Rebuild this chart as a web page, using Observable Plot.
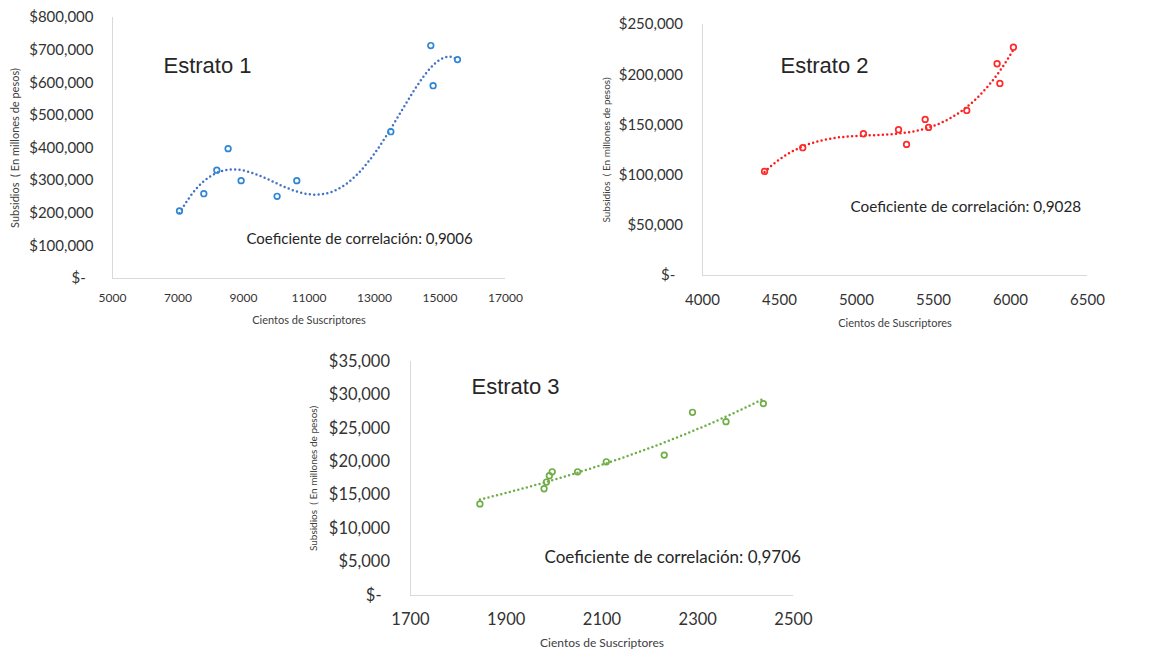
<!DOCTYPE html>
<html>
<head>
<meta charset="utf-8">
<script src="https://cdn.jsdelivr.net/npm/d3@7"></script>
<script src="https://cdn.jsdelivr.net/npm/@observablehq/plot@0.6"></script>
<style>
  html, body { margin: 0; padding: 0; background: #fff; }
  #wrap { position: relative; width: 1169px; height: 651px; overflow: hidden; background: #fff; }
  .panel { position: absolute; }
  .panel svg { overflow: visible; }
</style>
</head>
<body>
<div id="wrap">
  <div class="panel" id="p1" style="left:0px;top:0px"></div>
  <div class="panel" id="p2" style="left:590px;top:0px"></div>
  <div class="panel" id="p3" style="left:300px;top:345px"></div>
</div>
<script>
// ---- Data ----
const estrato1Suscriptores = [7046, 7788, 8185, 8530, 8927, 10026, 10627, 13498, 14719, 14790, 15534];
const estrato1Subsidios    = [207000, 260000, 332000, 398000, 300000, 252000, 300000, 450000, 714000, 591000, 671000];
const estrato2Suscriptores = [4403, 4651, 5045, 5273, 5325, 5446, 5468, 5716, 5913, 5931, 6019];
const estrato2Subsidios    = [103700, 127300, 141200, 145200, 130600, 155500, 147500, 164400, 210900, 191300, 227400];
const estrato3Suscriptores = [1845, 1979, 1984, 1990, 1996, 2049, 2109, 2230, 2289, 2359, 2437];
const estrato3Subsidios    = [13700, 15970, 16970, 17910, 18500, 18500, 20000, 21000, 27400, 26000, 28700];

const titles = ["Estrato 1", "Estrato 2", "Estrato 3"];
const correlaciones = ["Coeficiente de correlación: 0,9006", "Coeficiente de correlación: 0,9028", "Coeficiente de correlación: 0,9706"];
const xTitle = "Cientos de Suscriptores";
const yTitle = "Subsidios  ( En millones de pesos)";

const xTicks1 = [5000, 7000, 9000, 11000, 13000, 15000, 17000];
const yTicks1 = [0, 100000, 200000, 300000, 400000, 500000, 600000, 700000, 800000];
const xTicks2 = [4000, 4500, 5000, 5500, 6000, 6500];
const yTicks2 = [0, 50000, 100000, 150000, 200000, 250000];
const xTicks3 = [1700, 1900, 2100, 2300, 2500];
const yTicks3 = [0, 5000, 10000, 15000, 20000, 25000, 30000, 35000];
// trendline types (as in the spreadsheet): polynomial orders and exponential
const trendTypes = [{type: "poly", order: 5}, {type: "poly", order: 3}, {type: "exp"}];

// ---- Helpers ----
const money = v => v === 0 ? "$-\u00a0\u00a0" : "$" + d3.format(",")(v);

function polyfit(xs, ys, deg) {
  const mx = d3.mean(xs), sx = d3.deviation(xs);
  const us = xs.map(x => (x - mx) / sx);
  const n = deg + 1;
  const A = Array.from({length: n}, () => new Array(n + 1).fill(0));
  for (let k = 0; k < us.length; k++) {
    const p = [];
    for (let i = 0; i < n; i++) p.push(Math.pow(us[k], i));
    for (let i = 0; i < n; i++) {
      for (let j = 0; j < n; j++) A[i][j] += p[i] * p[j];
      A[i][n] += p[i] * ys[k];
    }
  }
  for (let c = 0; c < n; c++) {
    let piv = c;
    for (let r = c + 1; r < n; r++) if (Math.abs(A[r][c]) > Math.abs(A[piv][c])) piv = r;
    [A[c], A[piv]] = [A[piv], A[c]];
    for (let r = 0; r < n; r++) {
      if (r === c) continue;
      const f = A[r][c] / A[c][c];
      for (let j = c; j <= n; j++) A[r][j] -= f * A[c][j];
    }
  }
  const coef = A.map((row, i) => row[n] / row[i]);
  return x => { const u = (x - mx) / sx; let s = 0; for (let i = n - 1; i >= 0; i--) s = s * u + coef[i]; return s; };
}
function expfit(xs, ys) {
  const f = polyfit(xs, ys.map(Math.log), 1);
  return x => Math.exp(f(x));
}
function trend(xs, ys, t) {
  const f = t.type === "exp" ? expfit(xs, ys) : polyfit(xs, ys, t.order);
  const [a, b] = d3.extent(xs);
  return d3.range(0, 201).map(i => { const x = a + (b - a) * i / 200; return {x, y: f(x)}; });
}

const TXT = "#262626";
const AXISC = "#333333";
const LINEC = "#D9D9D9";

function panel(cfg) {
  const pts = cfg.xs.map((x, i) => ({x, y: cfg.ys[i]}));
  return Plot.plot({
    width: cfg.width, height: cfg.height,
    marginLeft: cfg.ml, marginRight: cfg.mr, marginTop: cfg.mt, marginBottom: cfg.mb,
    style: {fontFamily: "Lato, 'Open Sans', sans-serif", background: "transparent", overflow: "visible"},
    x: {domain: cfg.xDomain, ticks: cfg.xTicks},
    y: {domain: cfg.yDomain, ticks: cfg.yTicks},
    marks: [
      Plot.ruleX([cfg.xDomain[0]], {y1: cfg.yDomain[0], y2: cfg.yDomain[1], stroke: LINEC, strokeWidth: 1}),
      Plot.ruleY([cfg.yDomain[0]], {x1: cfg.xDomain[0], x2: cfg.xDomain[1], stroke: LINEC, strokeWidth: 1}),
      Plot.axisY({ticks: cfg.yTicks, tickFormat: money, tickSize: 0, tickPadding: cfg.yPad, fontSize: cfg.yFont, fill: AXISC, label: null}),
      Plot.axisX({ticks: cfg.xTicks, tickFormat: d => String(d), tickSize: 0, tickPadding: cfg.xPad, fontSize: cfg.xFont, fill: AXISC, label: null}),
      Plot.line(trend(cfg.xs, cfg.ys, cfg.trend), {x: "x", y: "y", stroke: cfg.trendColor, strokeWidth: 2.5, strokeDasharray: "0,4.4", strokeLinecap: "round"}),
      Plot.dot(pts, {x: "x", y: "y", r: 2.8, stroke: cfg.dotColor, strokeWidth: 1.7, fill: "none"}),
      Plot.text([cfg.title], {frameAnchor: "top-left", textAnchor: "start", lineAnchor: "middle", dx: cfg.tdx, dy: cfg.tdy, fontSize: 22, fontFamily: "'Liberation Sans', Arial, sans-serif", fill: TXT}),
      Plot.text([cfg.corr], {frameAnchor: "top-left", textAnchor: "start", lineAnchor: "middle", dx: cfg.cdx, dy: cfg.cdy, fontSize: cfg.cFont, fill: TXT}),
      Plot.text([xTitle], {frameAnchor: "bottom", lineAnchor: "middle", dy: cfg.xtDy, fontSize: cfg.xtFont, fill: "#404040"}),
      Plot.text([yTitle], {frameAnchor: "left", rotate: -90, textAnchor: "middle", lineAnchor: "middle", dx: cfg.ytDx, fontSize: cfg.ytFont, fill: "#404040"})
    ]
  });
}

document.getElementById("p1").appendChild(panel({
  xs: estrato1Suscriptores, ys: estrato1Subsidios, trend: trendTypes[0],
  width: 580, height: 330, ml: 112, mr: 75, mt: 17, mb: 52,
  xDomain: [5000, 17000], yDomain: [0, 800000], xTicks: xTicks1, yTicks: yTicks1,
  yPad: 19, yFont: 15, xPad: 15, xFont: 12,
  dotColor: "#2F86D4", trendColor: "#4472C4",
  title: titles[0], tdx: 51, tdy: 48,
  corr: correlaciones[0], cdx: 134, cdy: 222, cFont: 15,
  xtDy: 42, xtFont: 11, ytDx: -97, ytFont: 11
}));

document.getElementById("p2").appendChild(panel({
  xs: estrato2Suscriptores, ys: estrato2Subsidios, trend: trendTypes[1],
  width: 579, height: 330, ml: 112, mr: 82, mt: 24, mb: 55,
  xDomain: [4000, 6500], yDomain: [0, 250000], xTicks: xTicks2, yTicks: yTicks2,
  yPad: 19.5, yFont: 15, xPad: 18.5, xFont: 15,
  dotColor: "#FF2A2A", trendColor: "#FF1A1A",
  title: titles[1], tdx: 78, tdy: 41,
  corr: correlaciones[1], cdx: 148, cdy: 183, cFont: 15.3,
  xtDy: 48, xtFont: 11, ytDx: -96, ytFont: 10
}));

document.getElementById("p3").appendChild(panel({
  xs: estrato3Suscriptores, ys: estrato3Subsidios, trend: trendTypes[2],
  width: 520, height: 306, ml: 110, mr: 27, mt: 16, mb: 56,
  xDomain: [1700, 2500], yDomain: [0, 35000], xTicks: xTicks3, yTicks: yTicks3,
  yPad: 20.5, yFont: 16.5, xPad: 18, xFont: 16.5,
  dotColor: "#70AD47", trendColor: "#70AD47",
  title: titles[2], tdx: 61, tdy: 25,
  corr: correlaciones[2], cdx: 134, cdy: 196, cFont: 17,
  xtDy: 48, xtFont: 12, ytDx: -97, ytFont: 10
}));
</script>
</body>
</html>
